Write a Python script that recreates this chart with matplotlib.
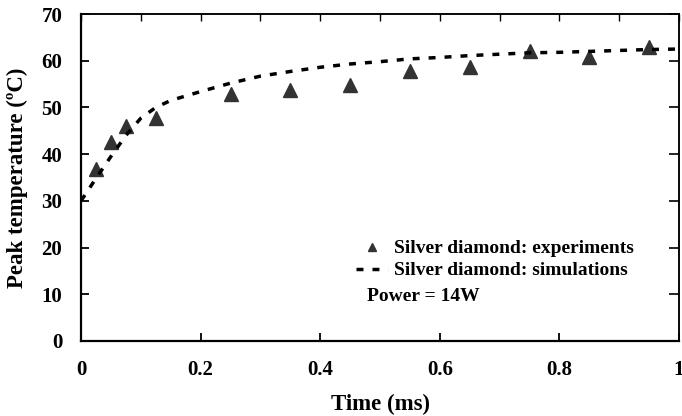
import matplotlib
matplotlib.use("Agg")
import matplotlib.pyplot as plt
from matplotlib.ticker import MultipleLocator, FuncFormatter

# experiments (triangles)
exp_time = [0.025, 0.05, 0.075, 0.125, 0.25, 0.35, 0.45, 0.55, 0.65, 0.75, 0.85, 0.95]
exp_temp = [36.8, 42.7, 46.1, 47.7, 52.9, 53.7, 54.8, 57.8, 58.6, 62.1, 60.7, 62.9]

# simulations (dashed line)
sim_time = [0, 0.025, 0.05, 0.075, 0.1, 0.125, 0.15, 0.2, 0.25, 0.3, 0.35, 0.4,
            0.45, 0.5, 0.55, 0.6, 0.65, 0.7, 0.75, 0.8, 0.85, 0.9, 0.95, 1.0]
sim_temp = [30.0, 34.8, 39.5, 44.0, 47.7, 50.0, 51.5, 53.4, 55.2, 56.7, 57.7, 58.6,
            59.3, 59.8, 60.4, 60.7, 61.1, 61.4, 61.7, 61.8, 62.0, 62.2, 62.4, 62.5]

plt.rcParams["font.family"] = ["Liberation Serif", "DejaVu Serif"]
plt.rcParams["font.weight"] = "bold"
plt.rcParams["font.size"] = 15

fig = plt.figure(figsize=(6.82, 4.16), dpi=100)
ax = fig.add_axes([0.1188, 0.1803, 0.8768, 0.786])

ax.plot(exp_time, exp_temp, linestyle="none", marker="^", markersize=9.5,
        color="#333333", label="Silver diamond: experiments")
ax.plot(sim_time, sim_temp, color="black", linewidth=2.5, dashes=(2.0, 2.6),
        label="Silver diamond: simulations")

ax.set_xlim(0, 1)
ax.set_ylim(0, 70)
ax.xaxis.set_major_locator(MultipleLocator(0.2))
ax.yaxis.set_major_locator(MultipleLocator(10))
ax.xaxis.set_major_formatter(FuncFormatter(lambda v, p: f"{v:g}"))

ax.tick_params(axis="x", direction="in", length=6, width=1.3, pad=14, top=False,
               labelsize=15)
ax.tick_params(axis="y", direction="in", length=6, width=1.3, pad=13.5, right=False,
               labelsize=15)

# top and right ticks without labels
top = ax.secondary_xaxis("top")
top.xaxis.set_major_locator(MultipleLocator(0.1))
top.tick_params(direction="in", length=5, width=1.0, labeltop=False)
right = ax.secondary_yaxis("right")
right.yaxis.set_major_locator(MultipleLocator(10))
right.tick_params(direction="in", length=7, width=1.2, labelright=False)

for side in ["left", "bottom"]:
    ax.spines[side].set_linewidth(1.6)
for side in ["top", "right"]:
    ax.spines[side].set_linewidth(1.1)
top.spines["top"].set_linewidth(1.1)
right.spines["right"].set_linewidth(1.1)

ax.set_xlabel("Time (ms)", fontsize=16.5, fontweight="bold", labelpad=10)
ax.set_ylabel("Peak temperature (ºC)", fontsize=16.5, fontweight="bold", labelpad=10)

ax.legend(loc="center left", bbox_to_anchor=(0.46, 0.249), frameon=False,
          handlelength=1.65, handletextpad=0.3, labelspacing=0.22,
          borderpad=0, borderaxespad=0, markerscale=0.65,
          prop={"family": "Liberation Serif", "weight": "bold", "size": 14})
ax.text(0.478, 0.136, "Power = 14W", transform=ax.transAxes, va="center",
        ha="left", fontsize=14, fontweight="bold")

fig.savefig("out.png", dpi=100)
